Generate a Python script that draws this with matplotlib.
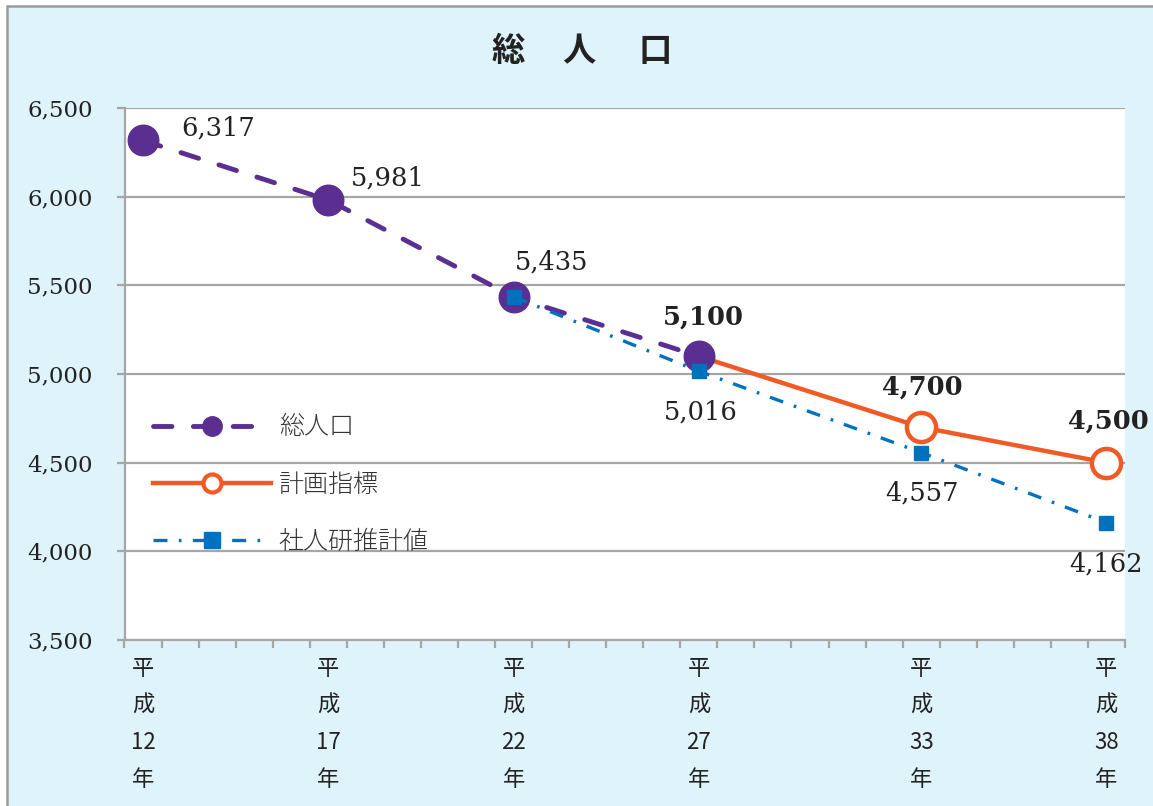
import matplotlib
matplotlib.use("Agg")
import matplotlib.pyplot as plt
from matplotlib.lines import Line2D
from matplotlib.patches import Rectangle

# ---- data ----
years_total = [12, 17, 22, 27]
total_pop = [6317, 5981, 5435, 5100]
years_plan = [27, 33, 38]
plan_pop = [5100, 4700, 4500]
years_ipss = [22, 27, 33, 38]
ipss_pop = [5435, 5016, 4557, 4162]
cat_years = [12, 17, 22, 27, 33, 38]
cat_labels = ["平\n成\n12\n年", "平\n成\n17\n年", "平\n成\n22\n年",
              "平\n成\n27\n年", "平\n成\n33\n年", "平\n成\n38\n年"]
yticks = [3500, 4000, 4500, 5000, 5500, 6000, 6500]
title_chars = ["総", "人", "口"]
legend_labels = ["総人口", "計画指標", "社人研推計値"]

PURPLE = "#5b2f91"
ORANGE = "#f15a24"
BLUE = "#0071bc"
BG = "#dff3fa"
GRID = "#a6a6a6"
JP = ["Noto Sans CJK JP", "DejaVu Sans"]
NUM = "DejaVu Serif"

W, H = 1153, 806
fig = plt.figure(figsize=(W / 100, H / 100), dpi=100, facecolor="white")
fig.patches.append(Rectangle((7 / W, -0.05), 1.2, (H - 6) / H + 0.05, transform=fig.transFigure,
                             facecolor=BG, edgecolor="#9a9a9a", linewidth=1.8, zorder=-10))

ax = fig.add_axes([124.5 / W, (H - 640) / H, (1125 - 124.5) / W, (640 - 108) / H])
ax.set_zorder(1)
ax.set_facecolor("white")
ax.set_xlim(11.5, 38.5)
ax.set_ylim(3500, 6500)

# grid & spines
ax.set_yticks(yticks)
ax.set_yticklabels([f"{v:,}" for v in yticks], fontfamily=NUM, fontsize=16.5, color="#222222")
ax.yaxis.grid(True, color=GRID, linewidth=1.6, zorder=0)
ax.set_axisbelow(True)
for s in ["top", "right"]:
    ax.spines[s].set_visible(False)
for s in ["left", "bottom"]:
    ax.spines[s].set_color(GRID)
    ax.spines[s].set_linewidth(1.6)
ax.tick_params(axis="y", length=6, width=1.6, color=GRID, pad=17)

# x ticks: boundaries as major (no labels), categories as minor with labels
ax.set_xticks([x + 0.5 for x in range(11, 39)])
ax.set_xticklabels([])
ax.tick_params(axis="x", which="major", length=6, width=1.6, color=GRID)
ax.set_xticks(cat_years, minor=True)
ax.set_xticklabels(cat_labels, minor=True, fontfamily=JP, fontsize=16,
                   linespacing=1.78, color="#222222")
ax.tick_params(axis="x", which="minor", length=0, pad=12)

# series
ax.plot(years_plan, plan_pop, color=ORANGE, linewidth=3.2, marker="o",
        markevery=[1, 2], markersize=21, markerfacecolor="white",
        markeredgecolor=ORANGE, markeredgewidth=3.2, zorder=3, clip_on=False)
l1, = ax.plot(years_total, total_pop, color=PURPLE, linewidth=3.5, marker="o",
              markersize=22, markerfacecolor=PURPLE, markeredgecolor=PURPLE,
              zorder=4, clip_on=False)
l1.set_dashes((3.8, 4.4))
l1.set_dash_capstyle("round")
l3, = ax.plot(years_ipss, ipss_pop, color=BLUE, linewidth=2.4, marker="s",
              markersize=10.5, markerfacecolor=BLUE, markeredgecolor=BLUE,
              zorder=5, clip_on=False)
l3.set_dashes((4.2, 3.4, 0.8, 3.4))

# data labels
def lab(x, y, dx, dy, bold=False):
    ax.annotate(f"{y:,}", (x, y), xytext=(dx, dy), textcoords="offset pixels",
                ha="center", va="center", fontfamily=NUM, fontsize=18.5,
                fontweight="bold" if bold else "normal", color="#222222",
                annotation_clip=False, zorder=6)

lab(years_total[0], total_pop[0], 75, 12)
lab(years_total[1], total_pop[1], 60, 22)
lab(years_total[2], total_pop[2], 38, 35)
lab(years_plan[0], plan_pop[0], 5, 39, bold=True)
lab(years_plan[1], plan_pop[1], 1, 40, bold=True)
lab(years_plan[2], plan_pop[2], 2, 42, bold=True)
lab(years_ipss[1], ipss_pop[1], 2, -41)
lab(years_ipss[2], ipss_pop[2], 1, -40)
lab(years_ipss[3], ipss_pop[3], 0, -41)

# legend
h1 = Line2D([], [], color=PURPLE, linewidth=3.5, marker="o", markersize=14,
            markerfacecolor=PURPLE, markeredgecolor=PURPLE, dashes=(3.8, 4.4),
            dash_capstyle="round")
h2 = Line2D([], [], color=ORANGE, linewidth=3.2, marker="o", markersize=13,
            markerfacecolor="white", markeredgecolor=ORANGE, markeredgewidth=3)
h3 = Line2D([], [], color=BLUE, linewidth=2.4, marker="s", markersize=11,
            markerfacecolor=BLUE, markeredgecolor=BLUE, dashes=(4.2, 3.4, 0.8, 3.4))
leg = ax.legend([h1, h2, h3], legend_labels, loc="upper left",
                bbox_to_anchor=(18 / 1000.5, (640 - 404) / 532), frameon=False,
                prop={"family": JP, "size": 18, "weight": "light"}, handlelength=4.75,
                handletextpad=0.3, labelspacing=1.22, borderaxespad=0)
for t in leg.get_texts():
    t.set_color("#333333")

# title
for ch, xpx in zip(title_chars, [508, 579, 655]):
    fig.text(xpx / W, 1 - 52 / H, ch, ha="center", va="center", fontfamily=JP,
             fontsize=24, fontweight="bold", color="#222222")

fig.savefig("out.png", dpi=100, facecolor="white")
